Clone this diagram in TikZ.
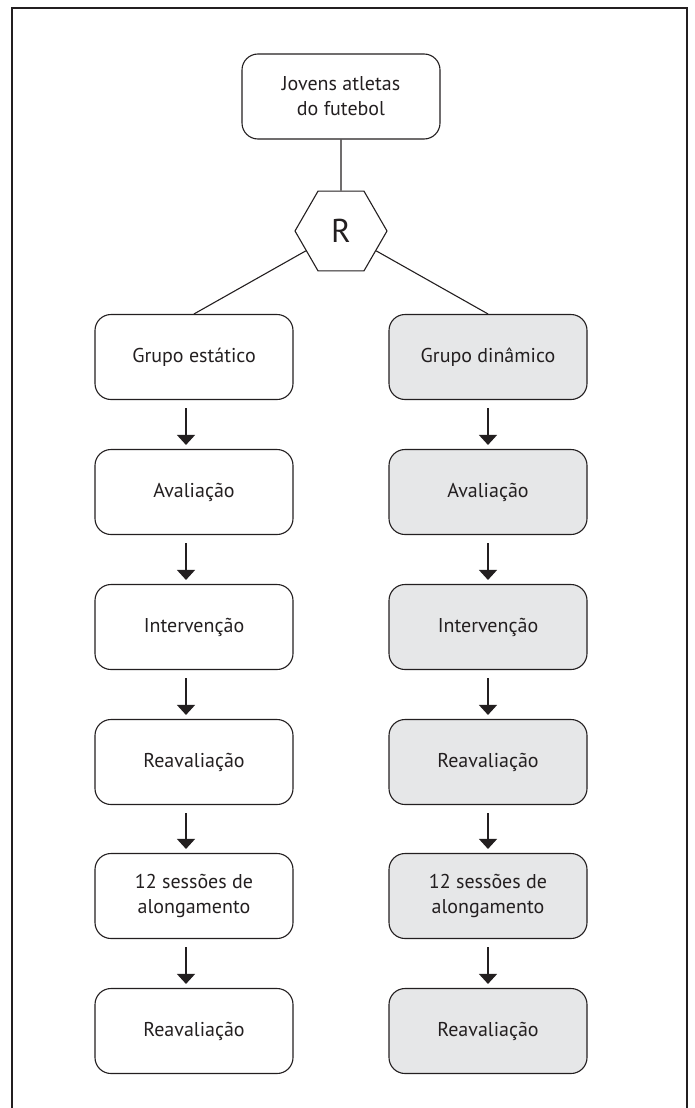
\documentclass[tikz,border=0pt]{standalone}
\usepackage{fontspec}
\setmainfont{PT Sans}
\usetikzlibrary{arrows.meta,shapes.geometric}
\definecolor{boxgray}{RGB}{230,231,232}
\definecolor{ink}{RGB}{35,31,32}
\begin{document}
\begin{tikzpicture}[x=1pt,y=-1pt,
  stepbox/.style={draw=ink, line width=1.1pt, rounded corners=16pt, rectangle,
    minimum width=198pt, minimum height=85pt, align=center, inner sep=2pt,
    font=\fontsize{20}{25}\selectfont, text=ink},
  graybox/.style={stepbox, fill=boxgray},
  hexnode/.style={draw=ink, line width=1.1pt, regular polygon, regular polygon sides=6,
    minimum size=92pt, inner sep=0pt, font=\fontsize{33}{33}\selectfont, text=ink},
  link/.style={draw=ink, line width=1.1pt},
  arr/.style={draw=ink, line width=1.2pt, -{Triangle[width=18pt,length=10pt]},
    shorten <=8pt, shorten >=4pt}
]
\useasboundingbox (0,0) rectangle (694,1108);
\draw[ink, line width=1.5pt] (12,1108) -- (12,8) -- (687,8) -- (687,1108);

\node[stepbox] (top) at (341,96.5) {Jovens atletas\\do futebol};
\node[hexnode] (hex) at (341,231) {R};

\node[stepbox] (l1) at (194,357) {Grupo estático};
\node[stepbox] (l2) at (194,492) {Avaliação};
\node[stepbox] (l3) at (194,627) {Intervenção};
\node[stepbox] (l4) at (194,762) {Reavaliação};
\node[stepbox] (l5) at (194,896) {12 sessões de\\alongamento};
\node[stepbox] (l6) at (194,1031) {Reavaliação};

\node[graybox] (r1) at (488,357) {Grupo dinâmico};
\node[graybox] (r2) at (488,492) {Avaliação};
\node[graybox] (r3) at (488,627) {Intervenção};
\node[graybox] (r4) at (488,762) {Reavaliação};
\node[graybox] (r5) at (488,896) {12 sessões de\\alongamento};
\node[graybox] (r6) at (488,1031) {Reavaliação};

\draw[link] (top) -- (hex);
\draw[link] (hex) -- (l1.north);
\draw[link] (hex) -- (r1.north);

\foreach \a/\b in {l1/l2,l2/l3,l3/l4,l4/l5,l5/l6}{
  \draw[arr] ([xshift=-8pt]\a.south) -- ([xshift=-8pt]\b.north);
}
\foreach \a/\b in {r1/r2,r2/r3,r3/r4,r4/r5,r5/r6}{
  \draw[arr] (\a.south) -- (\b.north);
}
\end{tikzpicture}
\end{document}
